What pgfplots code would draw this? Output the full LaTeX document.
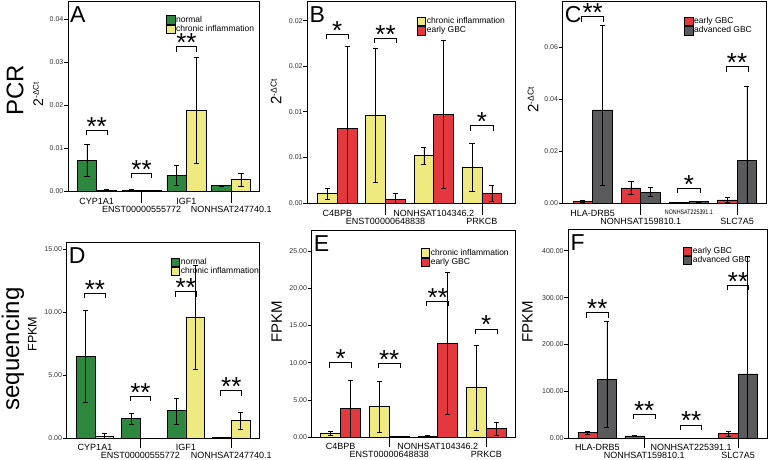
\documentclass[border=0pt]{standalone}
\usepackage{pgfplots}
\pgfplotsset{compat=1.18}
\usepackage{fontspec}
\setmainfont{Liberation Sans}
\definecolor{cgreen}{RGB}{46,135,62}
\definecolor{cyellow}{RGB}{238,234,128}
\definecolor{cred}{RGB}{226,56,62}
\definecolor{cgrey}{RGB}{90,90,92}

\newcommand{\sig}[3]{%
  \draw[line width=0.9pt] ([yshift=-5pt]axis cs:#1-0.23,#2) -- (axis cs:#1-0.23,#2) -- (axis cs:#1+0.23,#2) -- ([yshift=-5pt]axis cs:#1+0.23,#2);
  \node[anchor=base, inner sep=0pt, font=\fontsize{26}{26}\selectfont] at ([yshift=-5pt]axis cs:#1,#2) {#3};
}
\newcommand{\plet}[1]{\node[anchor=north west, inner sep=0pt, font=\fontsize{23}{23}\selectfont] at ([xshift=2pt,yshift=-5pt]rel axis cs:0,1) {#1};}
% long ticks under the second-row labels
\newcommand{\lticks}[1][11.5pt]{\draw[line width=0.8pt] (axis cs:1,0) -- ([yshift=-#1]axis cs:1,0); \draw[line width=0.8pt] (axis cs:3,0) -- ([yshift=-#1]axis cs:3,0);}
\newcommand{\low}[1]{\raisebox{-8pt}[6.5pt][0pt]{#1}}
\newcommand{\lowb}[1]{\raisebox{-7pt}[6.5pt][0pt]{#1}}

\pgfplotsset{
  panel/.style={
    scale only axis, anchor=south west, ymin=0, clip=false,
    axis line style={line width=0.8pt},
    tick align=outside, xtick pos=bottom, ytick pos=left,
    major tick length=4pt,
    tick style={line width=0.8pt, black},
    major x tick style={draw=none},
    xtick={0,1,2,3},
    xticklabel style={font=\fontsize{9}{9}\selectfont, inner sep=0pt, anchor=north, yshift=-3pt},
    scaled y ticks=false,
    yticklabel={\pgfmathprintnumber[fixed,fixed zerofill,precision=2,assume math mode=true]{\tick}},
    yticklabel style={font=\fontsize{7}{7}\selectfont, text=black!80, inner sep=0.5pt},
    ylabel style={anchor=center},
    ybar,
    legend style={anchor=north west, draw=none, fill=none, font=\fontsize{8.5}{8.5}\selectfont,
      inner sep=0pt, row sep=0pt, nodes={inner sep=0pt, text height=6.3pt, text depth=2.2pt},
      legend cell align=left, /tikz/every even column/.append style={column sep=0pt}},
    error bars/y dir=both, error bars/y explicit,
    error bars/error bar style={line width=0.7pt, black},
    error bars/error mark options={rotate=90, mark size=2.6pt, line width=0.7pt, black},
  },
  lower/.style={xticklabel style={yshift=1pt}},
  lsq/.style={legend image code/.code={\draw[##1, draw=black, line width=0.6pt] (0pt,-4.25pt) rectangle (8.5pt,4.25pt); \path (9.3pt,0pt);}},
}

\begin{document}
\begin{tikzpicture}
\path[use as bounding box] (0,0) rectangle (768pt,459pt);

\node[rotate=90, font=\fontsize{24}{24}\selectfont] at (15pt,369pt) {PCR};
\node[rotate=90, font=\fontsize{24}{24}\selectfont] at (13pt,110pt) {sequencing};

% A
\begin{axis}[panel, at={(68pt,268pt)}, width=191pt, height=190pt,
  xmin=-0.64, xmax=3.62, ymax=0.0442, bar width=0.435,
  ytick={0,0.01,0.02,0.03,0.04},
  xticklabels={CYP1A1,\low{ENST00000555772},IGF1,\low{NONHSAT247740.1}},
  ylabel={\fontsize{14}{14}\selectfont 2\raisebox{0.6ex}{\fontsize{8}{8}\selectfont -ΔCt}},
  ylabel style={at={(axis description cs:-0.157,0.51)}},
  legend style={at={(0.513,0.925)}}]
\addplot[fill=cgreen, draw=black, line width=0.7pt, bar shift=-0.2175, lsq] coordinates {
 (0,0.0072) += (0,0.0036) -= (0,0.0037)
 (1,0.0002) += (0,0.0001) -= (0,0.0001)
 (2,0.0037) += (0,0.0022) -= (0,0.0023)
 (3,0.0012) += (0,0.0001) -= (0,0.0001)};
\addplot[fill=cyellow, draw=black, line width=0.7pt, bar shift=0.2175, lsq] coordinates {
 (0,0.0002) += (0,0.0001) -= (0,0.0001)
 (1,0.00005) += (0,0) -= (0,0)
 (2,0.0188) += (0,0.0122) -= (0,0.0124)
 (3,0.0028) += (0,0.0014) -= (0,0.0017)};
\legend{normal,chronic inflammation}
\sig{0}{0.01419}{**}
\sig{1}{0.00412}{**}
\sig{2}{0.03356}{**}
\plet{A}
\lticks
\end{axis}

% B
\begin{axis}[panel, at={(307.3pt,256pt)}, width=207.7pt, height=202pt,
  xmin=-0.622, xmax=3.685, ymax=0.02215, bar width=0.41,
  ytick={0,0.005,0.01,0.015,0.02}, yticklabels={0.00,0.01,0.01,0.02,0.02},
  xticklabels={C4BPB,\low{ENST00000648838},NONHSAT104346.2,\low{PRKCB}},
  ylabel={\fontsize{15}{15}\selectfont 2\raisebox{0.6ex}{\fontsize{8.5}{8.5}\selectfont -ΔCt}},
  ylabel style={at={(axis description cs:-0.151,0.55)}},
  legend style={at={(0.527,0.922)}}]
\addplot[fill=cyellow, draw=black, line width=0.7pt, bar shift=-0.205, lsq] coordinates {
 (0,0.00106) += (0,0.00054) -= (0,0.00062)
 (1,0.00961) += (0,0.00731) -= (0,0.00734)
 (2,0.00523) += (0,0.00087) -= (0,0.00095)
 (3,0.00391) += (0,0.00263) -= (0,0.00259)};
\addplot[fill=cred, draw=black, line width=0.7pt, bar shift=0.205, lsq] coordinates {
 (0,0.00819) += (0,0.00895) -= (0,0.00819)
 (1,0.0004) += (0,0.00066) -= (0,0.0004)
 (2,0.00972) += (0,0.00808) -= (0,0.00808)
 (3,0.00106) += (0,0.00088) -= (0,0.00084)};
\legend{chronic inflammation,early GBC}
\sig{0}{0.0185}{*}
\sig{1}{0.01806}{**}
\sig{3}{0.00848}{*}
\plet{B}
\lticks
\end{axis}

% C
\begin{axis}[panel, at={(562.7pt,256pt)}, width=204pt, height=202pt,
  xmin=-0.624, xmax=3.617, ymax=0.07794, bar width=0.41,
  ytick={0,0.02,0.04,0.06},
  xticklabels={HLA-DRB5,\low{NONHSAT159810.1},{\fontsize{6.5}{6.5}\selectfont\scalebox{0.82}[1]{NONHSAT225391.1}},\low{SLC7A5}},
  ylabel={\fontsize{15}{15}\selectfont 2\raisebox{0.6ex}{\fontsize{8.5}{8.5}\selectfont -ΔCt}},
  ylabel style={at={(axis description cs:-0.146,0.51)}},
  legend style={at={(0.595,0.922)}}]
\addplot[fill=cred, draw=black, line width=0.7pt, bar shift=-0.205, lsq] coordinates {
 (0,0.00064) += (0,0.0002) -= (0,0.0002)
 (1,0.00579) += (0,0.0024) -= (0,0.0025)
 (2,0.0002) += (0,0.0001) -= (0,0.0001)
 (3,0.0012) += (0,0.001) -= (0,0.0009)};
\addplot[fill=cgrey, draw=black, line width=0.7pt, bar shift=0.205, lsq] coordinates {
 (0,0.0359) += (0,0.0325) -= (0,0.0292)
 (1,0.00424) += (0,0.0018) -= (0,0.0018)
 (2,0.0005) += (0,0.0002) -= (0,0.0002)
 (3,0.01646) += (0,0.0287) -= (0,0.01646)};
\legend{early GBC,advanced GBC}
\sig{0}{0.07189}{**}
\sig{2}{0.00567}{*}
\sig{3}{0.0526}{**}
\plet{C}
\lticks
\end{axis}

% D
\begin{axis}[panel, lower, at={(66.7pt,20.7pt)}, width=192.3pt, height=196.3pt,
  xmin=-0.623, xmax=3.61, ymax=15.555, bar width=0.41,
  ytick={0,5,10,15},
  xticklabels={CYP1A1,\lowb{ENST00000555772},IGF1,\lowb{NONHSAT247740.1}},
  ylabel={\fontsize{12.5}{12.5}\selectfont FPKM},
  ylabel style={at={(axis description cs:-0.179,0.53)}},
  legend style={at={(0.541,0.922)}}]
\addplot[fill=cgreen, draw=black, line width=0.7pt, bar shift=-0.205, lsq] coordinates {
 (0,6.52) += (0,3.6) -= (0,3.64)
 (1,1.56) += (0,0.42) -= (0,0.48)
 (2,2.19) += (0,0.98) -= (0,1.05)
 (3,0.08) += (0,0.02) -= (0,0.02)};
\addplot[fill=cyellow, draw=black, line width=0.7pt, bar shift=0.205, lsq] coordinates {
 (0,0.18) += (0,0.22) -= (0,0.18)
 (1,0.03) += (0,0) -= (0,0)
 (2,9.59) += (0,4.09) -= (0,4.12)
 (3,1.4) += (0,0.66) -= (0,0.69)};
\legend{normal,chronic inflammation}
\sig{0}{11.49}{**}
\sig{1}{3.35}{**}
\sig{2}{11.62}{**}
\sig{3}{3.77}{**}
\plet{D}
\lticks[9.5pt]
\end{axis}

% E
\begin{axis}[panel, lower, at={(311.7pt,21.7pt)}, width=204pt, height=207.3pt,
  xmin=-0.598, xmax=3.606, ymax=27.81, bar width=0.41,
  ytick={0,5,10,15,20,25},
  xticklabels={C4BPB,\lowb{ENST00000648838},NONHSAT104346.2,\lowb{PRKCB}},
  ylabel={\fontsize{15}{15}\selectfont FPKM},
  ylabel style={at={(axis description cs:-0.172,0.558)}},
  legend style={at={(0.534,0.912)}}]
\addplot[fill=cyellow, draw=black, line width=0.7pt, bar shift=-0.205, lsq] coordinates {
 (0,0.54) += (0,0.26) -= (0,0.27)
 (1,4.11) += (0,3.45) -= (0,3.48)
 (2,0.18) += (0,0.1) -= (0,0.08)
 (3,6.71) += (0,5.63) -= (0,5.73)};
\addplot[fill=cred, draw=black, line width=0.7pt, bar shift=0.205, lsq] coordinates {
 (0,3.85) += (0,3.84) -= (0,3.85)
 (1,0.1) += (0,0) -= (0,0)
 (2,12.61) += (0,9.53) -= (0,9.52)
 (3,1.21) += (0,0.76) -= (0,0.9)};
\legend{chronic inflammation,early GBC}
\sig{0}{10.01}{*}
\sig{1}{9.93}{**}
\sig{2}{18.25}{**}
\sig{3}{14.53}{*}
\plet{E}
\lticks[9.5pt]
\end{axis}

% F
\begin{axis}[panel, lower, at={(568.3pt,20.7pt)}, width=198.7pt, height=209pt,
  xmin=-0.617, xmax=3.617, ymax=445.6, bar width=0.41,
  ytick={0,100,200,300,400},
  xticklabels={HLA-DRB5,\lowb{NONHSAT159810.1},NONHSAT225391.1,\lowb{SLC7A5}},
  ylabel={\fontsize{15}{15}\selectfont FPKM},
  ylabel style={at={(axis description cs:-0.205,0.558)}},
  legend style={at={(0.576,0.917)}}]
\addplot[fill=cred, draw=black, line width=0.7pt, bar shift=-0.205, lsq] coordinates {
 (0,12.1) += (0,3.5) -= (0,2.9)
 (1,5.0) += (0,1) -= (0,1)
 (2,0.3) += (0,0) -= (0,0)
 (3,10.7) += (0,4.9) -= (0,5.7)};
\addplot[fill=cgrey, draw=black, line width=0.7pt, bar shift=0.205, lsq] coordinates {
 (0,125.8) += (0,123) -= (0,102.3)
 (1,0.3) += (0,0) -= (0,0)
 (2,0.5) += (0,0.2) -= (0,0.2)
 (3,137.2) += (0,250) -= (0,137.2)};
\legend{early GBC,advanced GBC}
\sig{0}{267.8}{**}
\sig{1}{51.2}{**}
\sig{2}{28.4}{**}
\sig{3}{326.2}{**}
\plet{F}
\lticks[9.5pt]
\end{axis}
\end{tikzpicture}
\end{document}
